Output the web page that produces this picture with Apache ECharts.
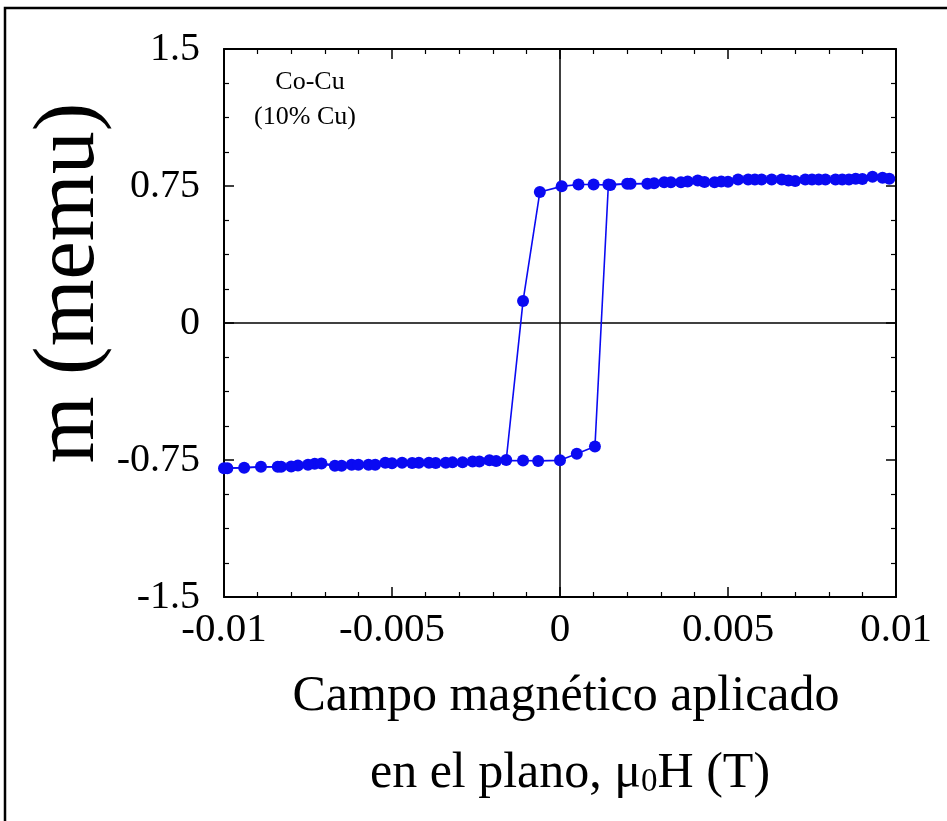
<!DOCTYPE html>
<html>
<head>
<meta charset="utf-8">
<script src="https://cdn.jsdelivr.net/npm/echarts@6/dist/echarts.min.js"></script>
<style>html,body{margin:0;padding:0;background:#fff}#c{width:947px;height:821px}</style>
</head>
<body>
<div id="c"></div>
<script>
// Descending branch (field swept from +0.01 T to -0.01 T)
const descH = [0.0098, 0.0093, 0.0088, 0.0084, 0.0079, 0.0075, 0.0070, 0.0066, 0.0060, 0.0056, 0.0050, 0.0046, 0.0041, 0.0036, 0.0031, 0.0026, 0.0020, 0.0015, 0.0010, 0.00055, 0.00005, -0.0006, -0.0011, -0.0016, -0.0021, -0.0026, -0.0032, -0.0037, -0.0042, -0.0047, -0.0052, -0.0057, -0.0062, -0.0067, -0.0073, -0.0078, -0.0083, -0.0089, -0.0094, -0.0099];
const descM = [0.79, 0.80, 0.79, 0.785, 0.786, 0.786, 0.777, 0.785, 0.785, 0.785, 0.773, 0.77, 0.78, 0.77, 0.77, 0.762, 0.762, 0.755, 0.758, 0.758, 0.748, 0.717, 0.12, -0.75, -0.752, -0.758, -0.763, -0.767, -0.765, -0.765, -0.765, -0.776, -0.776, -0.781, -0.77, -0.78, -0.787, -0.787, -0.792, -0.795];
// Ascending branch (field swept from -0.01 T to +0.01 T)
const ascH = [-0.0100, -0.0084, -0.0080, -0.0075, -0.0071, -0.0065, -0.0060, -0.0055, -0.0050, -0.0044, -0.0039, -0.0034, -0.0029, -0.0024, -0.0019, -0.0011, -0.00065, 0.0000, 0.0005, 0.00104, 0.00144, 0.0021, 0.0028, 0.0033, 0.0038, 0.0043, 0.0048, 0.0053, 0.0058, 0.0063, 0.0068, 0.0073, 0.0077, 0.0082, 0.0086, 0.0090, 0.0096];
const ascM = [-0.795, -0.787, -0.786, -0.776, -0.769, -0.781, -0.776, -0.776, -0.768, -0.766, -0.765, -0.765, -0.762, -0.758, -0.755, -0.753, -0.755, -0.752, -0.716, -0.676, 0.758, 0.762, 0.765, 0.77, 0.775, 0.772, 0.775, 0.785, 0.785, 0.785, 0.78, 0.785, 0.786, 0.786, 0.786, 0.788, 0.795];

const xTickLabels = ['-0.01', '-0.005', '0', '0.005', '0.01'];
const yTickLabels = ['-1.5', '-0.75', '0', '0.75', '1.5'];

const FONT = '"Liberation Serif", "Times New Roman", serif';
const BLUE = '#0a0af2';

function pairs(xs, ys) { return xs.map((x, i) => [x, ys[i]]); }
function xFmt(v) { const i = Math.round((v + 0.01) / 0.005); return xTickLabels[i] ?? ''; }
function yFmt(v) { const i = Math.round((v + 1.5) / 0.75); return yTickLabels[i] ?? ''; }

const axisCommon = {
  type: 'value',
  axisLine: { show: true, onZero: false, lineStyle: { color: '#000', width: 2 } },
  axisTick: { show: true, inside: true, length: 10, lineStyle: { color: '#000', width: 1.5 } },
  minorTick: { show: true, length: 5, lineStyle: { color: '#000', width: 1.2 } },
  splitLine: { show: false }
};

const chart = echarts.init(document.getElementById('c'), null, { renderer: 'canvas' });
chart.setOption({
  animation: false,
  backgroundColor: '#fff',
  grid: { left: 224, top: 49, width: 672, height: 548, containLabel: false },
  xAxis: [
    Object.assign({}, axisCommon, {
      position: 'bottom', min: -0.01, max: 0.01, interval: 0.005,
      minorTick: Object.assign({}, axisCommon.minorTick, { splitNumber: 5 }),
      axisLabel: { show: true, formatter: xFmt, fontFamily: FONT, fontSize: 41, color: '#000', margin: 13 }
    }),
    Object.assign({}, axisCommon, {
      position: 'top', min: -0.01, max: 0.01, interval: 0.005,
      minorTick: Object.assign({}, axisCommon.minorTick, { splitNumber: 5 }),
      axisLabel: { show: false }
    })
  ],
  yAxis: [
    Object.assign({}, axisCommon, {
      position: 'left', min: -1.5, max: 1.5, interval: 0.75,
      minorTick: Object.assign({}, axisCommon.minorTick, { splitNumber: 4 }),
      axisLabel: { show: true, formatter: yFmt, fontFamily: FONT, fontSize: 40, color: '#000', margin: 24 }
    }),
    Object.assign({}, axisCommon, {
      position: 'right', min: -1.5, max: 1.5, interval: 0.75,
      minorTick: Object.assign({}, axisCommon.minorTick, { splitNumber: 4 }),
      axisLabel: { show: false }
    })
  ],
  series: [
    {
      type: 'line', name: 'desc', data: pairs(descH, descM),
      symbol: 'circle', symbolSize: 12, showAllSymbol: true,
      itemStyle: { color: BLUE }, lineStyle: { color: BLUE, width: 1.6 },
      z: 3,
      markLine: {
        silent: true, symbol: 'none', label: { show: false },
        lineStyle: { color: '#000', width: 1.5, type: 'solid' },
        data: [{ xAxis: 0 }, { yAxis: 0 }],
        z: 1
      }
    },
    {
      type: 'line', name: 'asc', data: pairs(ascH, ascM),
      symbol: 'circle', symbolSize: 12, showAllSymbol: true,
      itemStyle: { color: BLUE }, lineStyle: { color: BLUE, width: 1.6 },
      z: 3
    }
  ],
  graphic: [
    { type: 'rect', shape: { x: 5, y: 8, width: 1200, height: 1200 }, style: { fill: 'none', stroke: '#000', lineWidth: 2.5 }, silent: true },
    { type: 'text', x: 310, y: 82, style: { text: 'Co-Cu', font: '26px ' + FONT, fill: '#000', align: 'center', verticalAlign: 'middle' } },
    { type: 'text', x: 305, y: 117, style: { text: '(10% Cu)', font: '26px ' + FONT, fill: '#000', align: 'center', verticalAlign: 'middle' } },
    { type: 'text', x: 70, y: 283, rotation: Math.PI / 2, style: { text: 'm (memu)', font: '86px ' + FONT, fill: '#000', align: 'center', verticalAlign: 'middle' } },
    { type: 'text', x: 566, y: 697, style: { text: 'Campo magnético aplicado', font: '50px ' + FONT, fill: '#000', align: 'center', verticalAlign: 'middle' } },
    { type: 'text', x: 570, y: 770, style: {
        text: '{a|en el plano, μ}{s|0}{a|H (T)}', align: 'center', verticalAlign: 'middle',
        rich: {
          a: { fontFamily: FONT, fontSize: 50, lineHeight: 58, fill: '#000', color: '#000', verticalAlign: 'bottom' },
          s: { fontFamily: FONT, fontSize: 33, lineHeight: 41, fill: '#000', color: '#000', verticalAlign: 'bottom' }
        }
      } }
  ]
});
</script>
</body>
</html>
